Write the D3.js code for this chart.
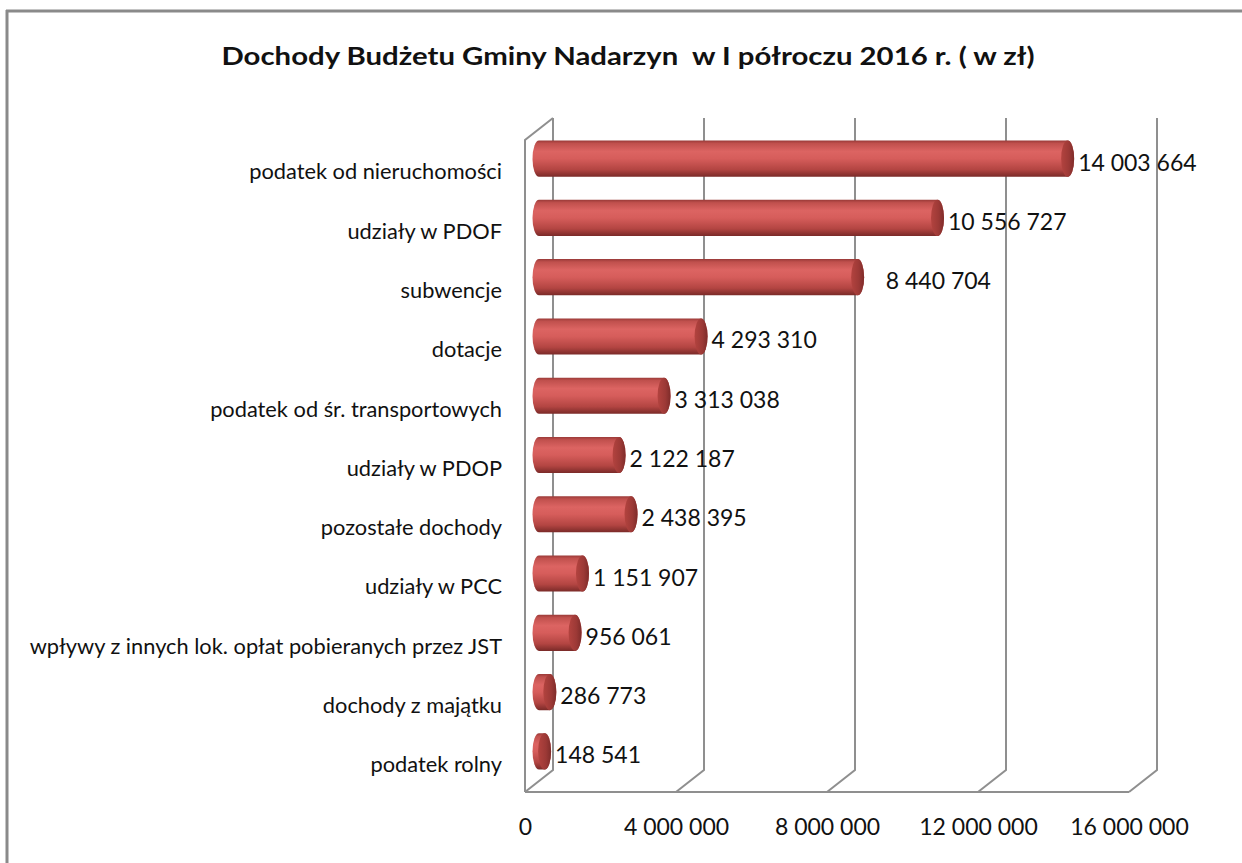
<!DOCTYPE html>
<html>
<head>
<meta charset="utf-8">
<script src="https://cdn.jsdelivr.net/npm/d3@7"></script>
<style>
  html, body { margin: 0; padding: 0; background: #fff; }
  svg { display: block; }
  text { font-family: Lato, "Open Sans", sans-serif; fill: #111; }
</style>
</head>
<body>
<svg id="chart" width="1242" height="863"></svg>
<script>
// ---- data ----
const title = "Dochody Budżetu Gminy Nadarzyn  w I półroczu 2016 r. ( w zł)";
const categories = [
  "podatek od nieruchomości",
  "udziały w PDOF",
  "subwencje",
  "dotacje",
  "podatek od śr. transportowych",
  "udziały w PDOP",
  "pozostałe dochody",
  "udziały w PCC",
  "wpływy z innych lok. opłat pobieranych przez JST",
  "dochody z majątku",
  "podatek rolny"
];
const values = [14003664, 10556727, 8440704, 4293310, 3313038, 2122187, 2438395, 1151907, 956061, 286773, 148541];
const valueLabels = ["14 003 664", "10 556 727", "\u00a0\u00a0\u00a08 440 704", "4 293 310", "3 313 038", "2 122 187", "2 438 395", "1 151 907", "956 061", "286 773", "148 541"];
const tickValues = [0, 4000000, 8000000, 12000000, 16000000];
const tickLabels = ["0", "4 000 000", "8 000 000", "12 000 000", "16 000 000"];
const xMax = 16000000;

// ---- layout ----
const svg = d3.select("#chart");
const front = { x0: 525, x1: 1129, y0: 140, y1: 792 };
const depth = { dx: 28, dy: -22 };
const gridColor = "#8f8f8f";

const xFront = d3.scaleLinear().domain([0, xMax]).range([front.x0, front.x1]);
const xBack = d3.scaleLinear().domain([0, xMax]).range([front.x0 + depth.dx, front.x1 + depth.dx]);
const xMid = d3.scaleLinear().domain([0, xMax]).range([front.x0 + depth.dx / 2, front.x1 + depth.dx / 2]);
const yFront = d3.scaleBand().domain(categories).range([front.y0, front.y1]);
const yMid = d3.scaleBand().domain(categories).range([front.y0 + depth.dy / 2, front.y1 + depth.dy / 2]);
const yBackTop = front.y0 + depth.dy, yBackBot = front.y1 + depth.dy;

// frame
svg.append("line").attr("x1", 6).attr("x2", 1242).attr("y1", 11).attr("y2", 11)
  .attr("stroke", "#8a8a8a").attr("stroke-width", 3);
svg.append("line").attr("x1", 7).attr("x2", 7).attr("y1", 10).attr("y2", 863)
  .attr("stroke", "#8a8a8a").attr("stroke-width", 3);

// title
svg.append("text").attr("x", 628).attr("y", 65).attr("text-anchor", "middle")
  .attr("font-size", 25.5).attr("font-weight", "bold")
  .attr("textLength", 813).attr("lengthAdjust", "spacingAndGlyphs")
  .style("white-space", "pre").attr("xml:space", "preserve")
  .text(title);

// gradients
const defs = svg.append("defs");
const gBody = defs.append("linearGradient").attr("id", "body").attr("x1", 0).attr("y1", 0).attr("x2", 0).attr("y2", 1);
[["0%", "#9a3a38"], ["8%", "#c0504d"], ["30%", "#dc6462"], ["50%", "#d65d5b"], ["80%", "#b34542"], ["100%", "#7a2a28"]]
  .forEach(([o, c]) => gBody.append("stop").attr("offset", o).attr("stop-color", c));
const gCap = defs.append("linearGradient").attr("id", "cap").attr("x1", 0).attr("y1", 0).attr("x2", 1).attr("y2", 0);
[["0%", "#b3433f"], ["60%", "#9c3936"], ["100%", "#7e2c2a"]]
  .forEach(([o, c]) => gCap.append("stop").attr("offset", o).attr("stop-color", c));

// grid (walls)
const grid = svg.append("g").attr("fill", "none").attr("stroke", gridColor).attr("stroke-width", 2);
grid.append("path").attr("d",
  `M${xFront(0)},${front.y1} L${xFront(0)},${front.y0} L${xBack(0)},${yBackTop}`);
tickValues.forEach(t => {
  grid.append("path").attr("d",
    `M${xBack(t)},${yBackTop} L${xBack(t)},${yBackBot} L${xFront(t)},${front.y1}`);
});
grid.append("path").attr("d", `M${xFront(0)},${front.y1} L${xFront(xMax)},${front.y1}`);

// bars (cylinders)
const bw = yMid.bandwidth();
const ry = bw * 0.305, rx = 6.5;
const bars = svg.append("g");
categories.forEach((c, i) => {
  const cy = yMid(c) + bw / 2;
  const a = xMid(0), b = xMid(values[i]);
  bars.append("path")
    .attr("d", `M${a},${cy - ry} L${b},${cy - ry} A${rx},${ry} 0 0 1 ${b},${cy + ry} L${a},${cy + ry} A${rx},${ry} 0 0 1 ${a},${cy - ry} Z`)
    .attr("fill", "url(#body)");
  bars.append("ellipse").attr("cx", b).attr("cy", cy).attr("rx", rx).attr("ry", ry)
    .attr("fill", "url(#cap)");
});

// value labels
categories.forEach((c, i) => {
  svg.append("text")
    .attr("x", xMid(values[i]) + rx + 4)
    .attr("y", yMid(c) + bw / 2 + 12)
    .attr("font-size", 23)
    .style("white-space", "pre")
    .text(valueLabels[i]);
});

// category axis
const yAxis = svg.append("g").attr("transform", `translate(${xFront(0)},0)`)
  .call(d3.axisLeft(yFront).tickSize(0).tickPadding(23));
yAxis.select(".domain").remove();
yAxis.selectAll("text").attr("font-size", 21.8).attr("fill", "#111")
  .attr("font-family", "Lato, 'Open Sans', sans-serif").attr("dy", "0.45em");

// value axis
const xAxis = svg.append("g").attr("transform", `translate(0,${front.y1})`)
  .call(d3.axisBottom(xFront).tickValues(tickValues).tickFormat((d, i) => tickLabels[i]).tickSize(0).tickPadding(27));
xAxis.select(".domain").remove();
xAxis.selectAll("text").attr("font-size", 23).attr("fill", "#111")
  .attr("font-family", "Lato, 'Open Sans', sans-serif");
</script>
</body>
</html>
